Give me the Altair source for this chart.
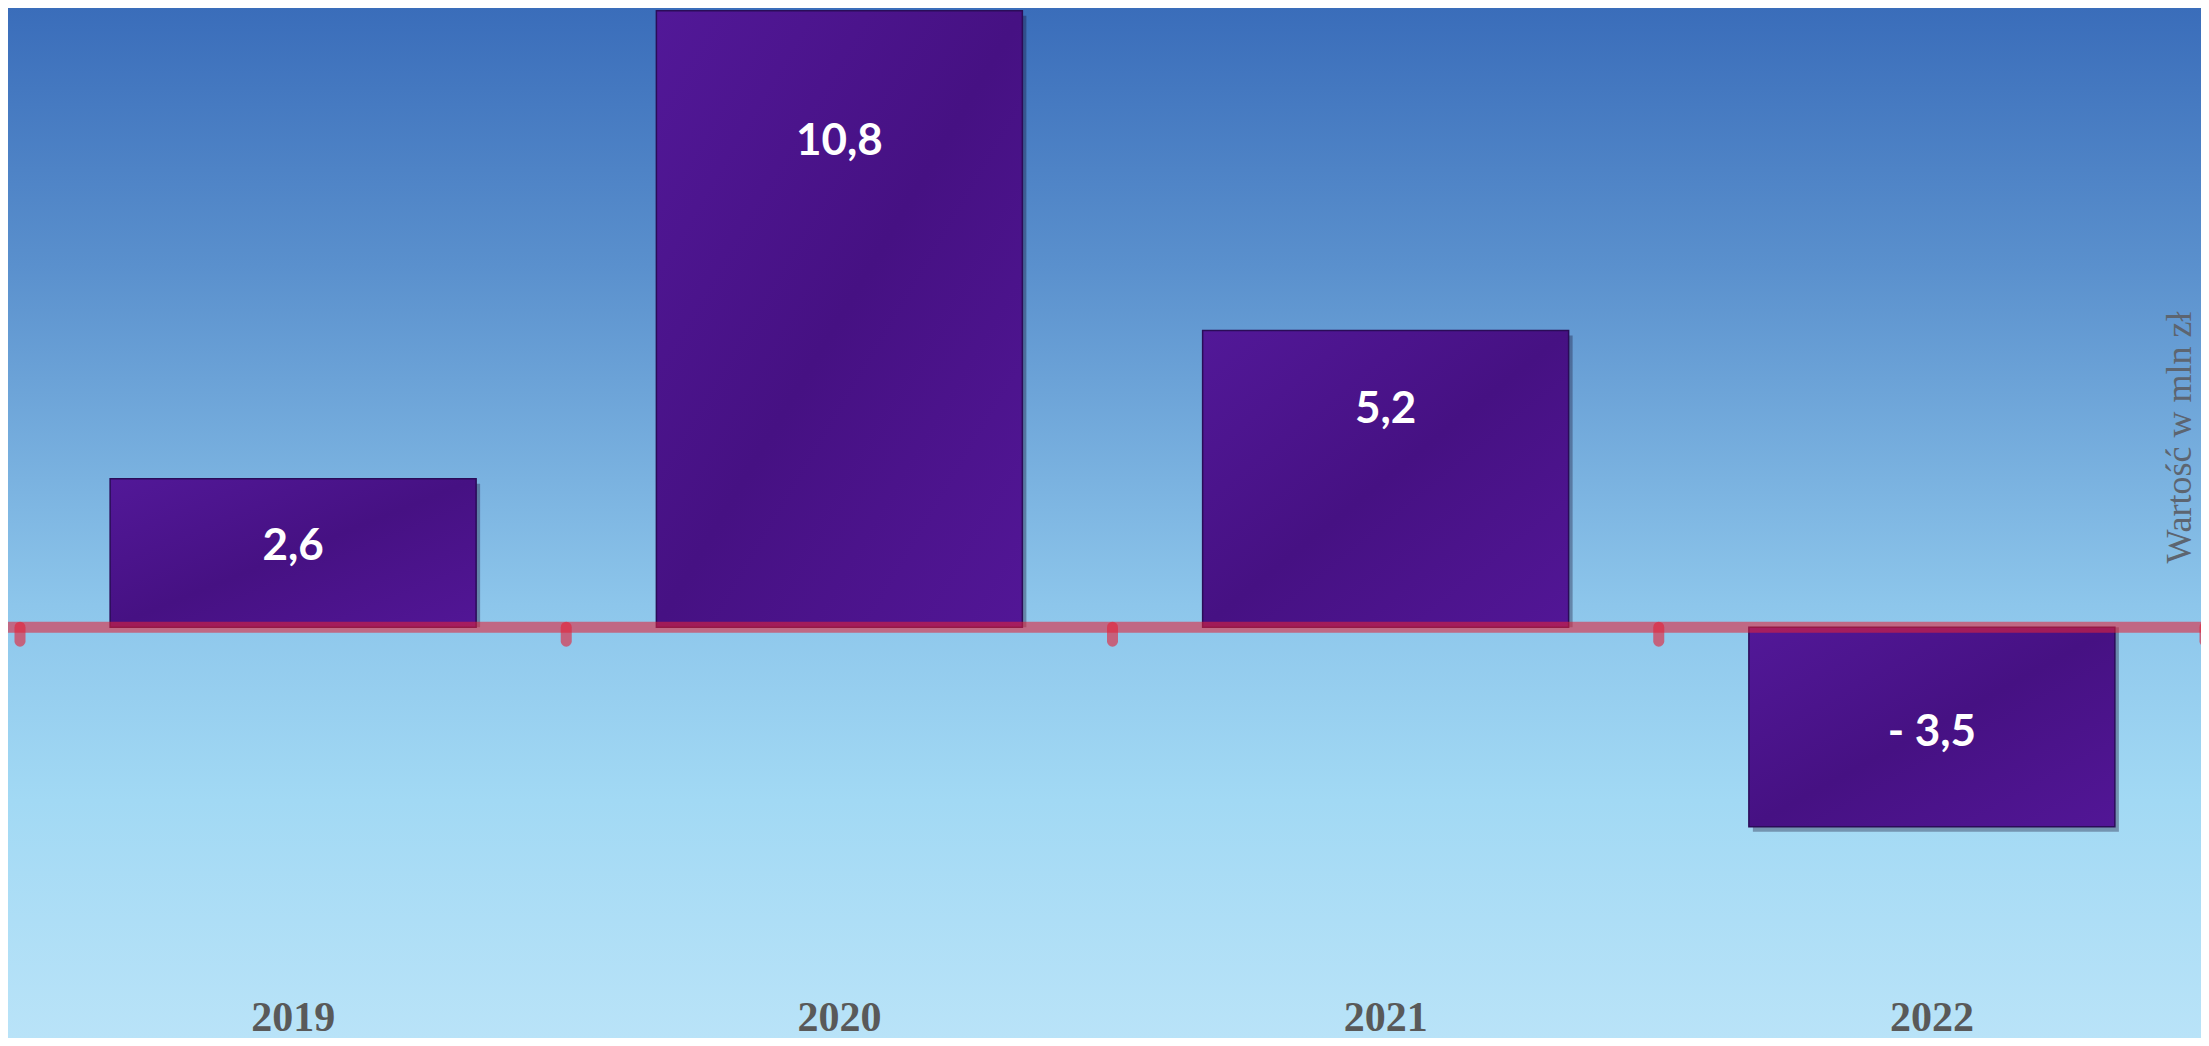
import altair as alt
import pandas as pd

# ---- data ----
years = ["2019", "2020", "2021", "2022"]
values = [2.6, 10.8, 5.2, -3.5]                 # mln zł
value_labels = ["2,6", "10,8", "5,2", "- 3,5"]
label_at = [1.4, 8.5, 3.8, -1.85]                # where each value label sits (mln zł)
boundaries = ["b0", "b1", "b2", "b3", "b4"]      # category boundaries (tick marks)

W, H = 2193, 1030

df = pd.DataFrame({"year": years, "value": values,
                   "label": value_labels, "label_at": label_at})
bdf = pd.DataFrame({"b": boundaries})
bgdf = pd.DataFrame({"k": [0]})

x_range = [12, 2197]
xscale = alt.Scale(domain=years, paddingInner=0.33, paddingOuter=0.165, range=x_range)
yscale = alt.Scale(domain=[-7.2, 10.85], nice=False, zero=False)

yaxis = alt.Axis(orient="right", title="Wartość w mln zł", labels=False, ticks=False,
                 domain=False, grid=False, titleAngle=270, titleX=-11, titleY=429,
                 titleAlign="center", titleBaseline="alphabetic",
                 titleFont="Liberation Serif", titleFontSize=36, titleFontWeight="normal",
                 titleColor="#5d6570", zindex=1)

xaxis = alt.Axis(orient="bottom", title=None, domain=False, ticks=False, tickSize=0,
                 grid=False, labelAngle=0, labelFont="Liberation Serif", labelFontSize=42,
                 labelFontWeight="bold", labelColor="#595959", labelBaseline="alphabetic",
                 labelPadding=0, offset=-8, zindex=1)

background = alt.Chart(bgdf).mark_rect(
    fill={"gradient": "linear", "x1": 0, "y1": 0, "x2": 0, "y2": 1,
          "stops": [{"offset": 0, "color": "#3a6dba"},
                    {"offset": 0.25, "color": "#5a90cd"},
                    {"offset": 0.58, "color": "#8dc6eb"},
                    {"offset": 0.77, "color": "#a2d9f4"},
                    {"offset": 1, "color": "#b9e3f8"}]},
).encode(x=alt.value(0), x2=alt.value(W), y=alt.value(0), y2=alt.value(H))

base = alt.Chart(df)

shadow = base.mark_bar(color="#1a1030", opacity=0.35, xOffset=4, yOffset=5).encode(
    x=alt.X("year:N", scale=xscale, axis=None),
    y=alt.Y("value:Q", scale=yscale, axis=yaxis),
    y2=alt.Y2Datum(0),
)

bars = base.mark_bar(
    fill={"gradient": "linear", "x1": 0, "y1": 0, "x2": 1, "y2": 1,
          "stops": [{"offset": 0, "color": "#521898"},
                    {"offset": 0.5, "color": "#461183"},
                    {"offset": 1, "color": "#521696"}]},
    stroke="#2a0c58", strokeWidth=1.5,
).encode(
    x=alt.X("year:N", scale=xscale, axis=xaxis),
    y=alt.Y("value:Q", scale=yscale, axis=yaxis),
    y2=alt.Y2Datum(0),
)

zero_line = alt.Chart(bgdf).mark_rule(color="#e32238", opacity=0.58, strokeWidth=11,
                                      strokeCap="round").encode(
    x=alt.value(0), x2=alt.value(W),
    y=alt.YDatum(0, scale=yscale, axis=yaxis),
)

ticks = alt.Chart(bdf).mark_rule(color="#e32238", opacity=0.62, strokeWidth=11,
                                 strokeCap="round", y2Offset=14).encode(
    x=alt.X("b:N", scale=alt.Scale(type="point", padding=0, range=x_range), axis=None),
    y=alt.YDatum(0, scale=yscale, axis=yaxis),
    y2=alt.Y2Datum(0),
)

labels = base.mark_text(color="white", font="Lato", fontSize=44, fontWeight="bold",
                        align="center", baseline="middle").encode(
    x=alt.X("year:N", scale=xscale, axis=None),
    y=alt.Y("label_at:Q", scale=yscale, axis=yaxis),
    text="label:N",
)

chart = alt.layer(background, shadow, bars, zero_line, ticks, labels).resolve_scale(
    x="independent"
).properties(
    width=W, height=H, padding=0,
    autosize=alt.AutoSizeParams(type="none"),
).configure_view(stroke=None)

chart.save("out.html", embed_options={"renderer": "svg", "actions": False})
